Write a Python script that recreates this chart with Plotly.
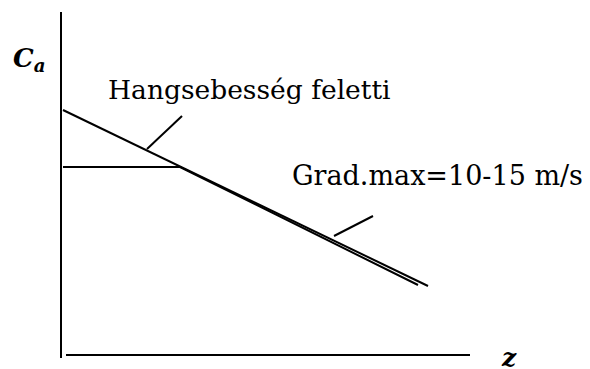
import plotly.graph_objects as go

# Schematic data in chart units (origin at the axes' corner, z to the right, Ca upward)
axis_v_z = [0, 0]
axis_v_ca = [-3, 343]
axis_h_z = [5, 409]
axis_h_ca = [0, 0]

# "Hangsebesség feletti" line (supersonic)
super_z = [2, 367]
super_ca = [245, 69]

# "Grad.max=10-15 m/s" line
grad_z = [2, 119, 357]
grad_ca = [188, 188, 70]

# leader lines for the labels
lead1_z = [86, 121]
lead1_ca = [206, 239]
lead2_z = [273, 312]
lead2_ca = [119, 139]

label_super = "Hangsebesség feletti"
label_grad = "Grad.max=10-15 m/s"

FONT = "DejaVu Serif"
BLACK = "#000000"

fig = go.Figure()
for xs, ys in [(axis_v_z, axis_v_ca), (axis_h_z, axis_h_ca), (super_z, super_ca),
               (grad_z, grad_ca), (lead1_z, lead1_ca), (lead2_z, lead2_ca)]:
    fig.add_trace(go.Scatter(x=xs, y=ys, mode="lines",
                             line=dict(color=BLACK, width=2), hoverinfo="skip",
                             showlegend=False))

fig.add_annotation(x=45, y=266, text=label_super, showarrow=False,
                   xanchor="left", yanchor="middle",
                   font=dict(family=FONT, size=26.5, color=BLACK))
fig.add_annotation(x=229, y=180, text=label_grad, showarrow=False,
                   xanchor="left", yanchor="middle",
                   font=dict(family=FONT, size=27, color=BLACK))
fig.add_annotation(x=-50, y=296, text="<b><i>C</i></b><sub><b><i>a</i></b></sub>",
                   showarrow=False, xanchor="left", yanchor="middle",
                   font=dict(family=FONT, size=26, color=BLACK))
fig.add_annotation(x=438, y=-2, text="<b><i>z</i></b>", showarrow=False,
                   xanchor="left", yanchor="middle",
                   font=dict(family=FONT, size=25, color=BLACK))

# the page puts the figure 8px in from the top-left corner; ranges compensate
fig.update_layout(
    width=590, height=369,
    margin=dict(l=0, r=0, t=0, b=0),
    paper_bgcolor="white", plot_bgcolor="white",
    font=dict(family=FONT),
    xaxis=dict(range=[-53, 537], visible=False, fixedrange=True),
    yaxis=dict(range=[-22, 347], visible=False, fixedrange=True),
    showlegend=False,
)

fig.write_html("out.html")
